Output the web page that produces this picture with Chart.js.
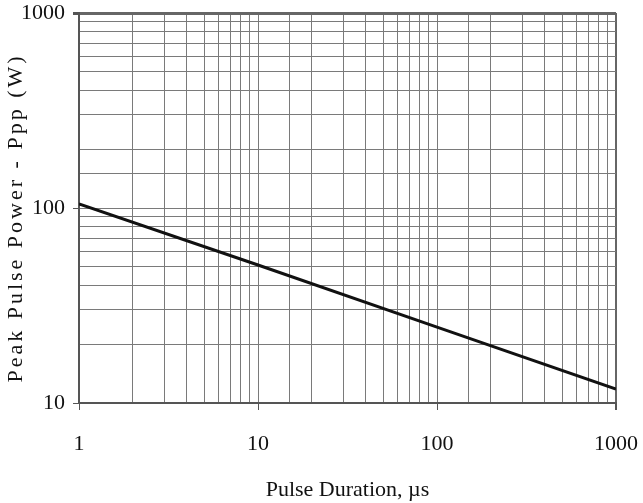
<!DOCTYPE html>
<html>
<head>
<meta charset="utf-8">
<script src="https://cdn.jsdelivr.net/npm/chart.js@4.4.0/dist/chart.umd.min.js"></script>
<style>
  html, body { margin: 0; padding: 0; background: #fff; }
  #wrap { width: 643px; height: 503px; }
</style>
</head>
<body>
<div id="wrap"><canvas id="myChart" width="643" height="503"></canvas></div>
<script>
// Pulse duration (us) and peak pulse power (W)
const durations = [1, 10, 100, 1000];
const peakPower = [105, 51, 24.5, 11.8];

// Labelled ticks
const xTickLabels = [1, 10, 100, 1000];
const yTickLabels = [10, 100, 1000];

const xTitle = 'Pulse Duration, \u00b5s';
const yTitle = 'Peak Pulse Power - Ppp (W)';

const serif = "'Liberation Serif', 'Times New Roman', serif";

function gridColor(ctx, min, max) {
    const v = ctx.tick && ctx.tick.value;
    if (v === min || v === max) return '#666';
    return '#7a7a7a';
}

// draws the letter-spaced vertical title
const yTitlePlugin = {
    id: 'yTitle',
    afterDraw(chart) {
        const c = chart.ctx;
        c.save();
        c.translate(16, 218);
        c.rotate(-Math.PI / 2);
        c.font = '22px ' + serif;
        c.letterSpacing = '3px';
        c.fillStyle = '#111';
        c.textAlign = 'center';
        c.textBaseline = 'middle';
        c.fillText(yTitle, 0, 0);
        c.restore();
    }
};

const ctx = document.getElementById('myChart').getContext('2d');
const chart = new Chart(ctx, {
    type: 'line',
    data: {
        datasets: [{
            data: durations.map((d, i) => ({ x: d, y: peakPower[i] })),
            borderColor: '#111',
            borderWidth: 3,
            pointRadius: 0,
            fill: false,
            tension: 0
        }]
    },
    options: {
        responsive: false,
        animation: false,
        layout: { padding: { top: 13, right: 27, left: 0, bottom: 0 } },
        plugins: {
            legend: { display: false },
            tooltip: { enabled: false }
        },
        scales: {
            x: {
                type: 'logarithmic',
                min: 1,
                max: 1000,
                afterFit(scale) {
                    scale.height = 100;
                    scale.paddingLeft = 0;
                    scale.paddingRight = 0;
                },
                grid: {
                    color: c => gridColor(c, 1, 1000),
                    lineWidth: c => (c.tick && c.tick.value === 1000) ? 2 : 1,
                    tickLength: 7,
                    tickColor: c => xTickLabels.includes(c.tick && c.tick.value) ? '#555' : 'transparent'
                },
                border: { color: '#555', width: 2 },
                ticks: {
                    autoSkip: false,
                    maxRotation: 0,
                    padding: 21,
                    color: '#111',
                    font: { family: serif, size: 22 },
                    callback: v => xTickLabels.includes(v) ? String(v) : ''
                },
                title: {
                    display: true,
                    text: xTitle,
                    color: '#111',
                    font: { family: serif, size: 22 },
                    padding: { top: 15, bottom: 0 }
                }
            },
            y: {
                type: 'logarithmic',
                min: 10,
                max: 1000,
                afterFit(scale) {
                    scale.width = 79;
                    scale.paddingTop = 0;
                    scale.paddingBottom = 0;
                },
                grid: {
                    color: c => gridColor(c, 10, 1000),
                    lineWidth: c => (c.tick && c.tick.value === 1000) ? 3 : 1,
                    tickLength: 6,
                    tickColor: c => yTickLabels.includes(c.tick && c.tick.value) ? '#555' : 'transparent'
                },
                border: { color: '#555', width: 2 },
                ticks: {
                    autoSkip: false,
                    padding: 8,
                    color: '#111',
                    font: { family: serif, size: 22 },
                    callback: v => yTickLabels.includes(v) ? String(v) : ''
                }
            }
        }
    },
    plugins: [yTitlePlugin]
});
</script>
</body>
</html>
